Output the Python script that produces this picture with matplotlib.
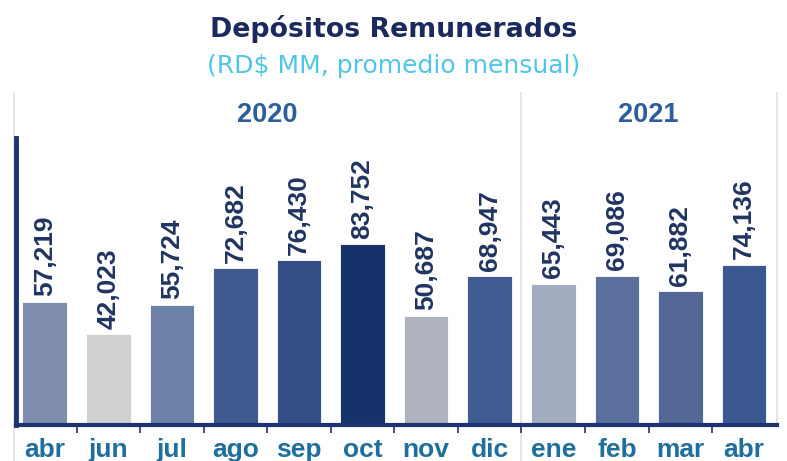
import matplotlib
matplotlib.use('Agg')
import matplotlib.pyplot as plt
import matplotlib.transforms as mtransforms

# Datos (RD$ MM, promedio mensual)
meses = ['abr', 'jun', 'jul', 'ago', 'sep', 'oct', 'nov', 'dic',
         'ene', 'feb', 'mar', 'abr']
valores = [57219, 42023, 55724, 72682, 76430, 83752, 50687, 68947,
           65443, 69086, 61882, 74136]
colores = ['#7F8EAE', '#D0D0D0', '#6D80A8', '#3E5A8E', '#344F86', '#16326B',
           '#ADB2BE', '#3E5B92', '#A3ACBF', '#5A6F9C', '#526795', '#3A5790']
anios = ['2020', '2021']
anio_centro = [3.5, 9.5]
separadores = [7.5]

NAVY = '#1B3370'
W, H = 787, 461

fig = plt.figure(figsize=(W / 100, H / 100), dpi=100)
ax = fig.add_axes([15.5 / W, 1 - 425 / H, (777 - 15.5) / W, 287 / H])

x = range(len(valores))
ax.bar(x, valores, width=0.7, color=colores, edgecolor='white', linewidth=0.6, zorder=2)

# Etiquetas de valores (verticales)
for xi, v in zip(x, valores):
    ax.annotate(f'{v:,}', (xi, v), xytext=(0, 4), textcoords='offset points',
                rotation=90, ha='center', va='bottom', fontsize=19,
                fontweight='bold', color='#1F3461', family='Liberation Sans')

ax.set_xlim(-0.46, 11.52)
ax.set_ylim(0, 133000)

# Ejes
for s in ['top', 'right']:
    ax.spines[s].set_visible(False)
ax.spines['left'].set_color(NAVY)
ax.spines['left'].set_linewidth(3.5)
ax.spines['bottom'].set_color(NAVY)
ax.spines['bottom'].set_linewidth(3)
ax.set_yticks([])

ax.set_xticks(list(x))
ax.set_xticklabels(meses, fontsize=19, fontweight='bold', color='#1F6E9E',
                   family='Liberation Sans')
ax.tick_params(axis='x', which='major', length=0, pad=9)
ax.set_xticks([i + 0.5 for i in range(11)], minor=True)
ax.tick_params(axis='x', which='minor', length=6, width=1.2, color=NAVY)

# Lineas separadoras grises
tr = mtransforms.blended_transform_factory(ax.transData, ax.transAxes)
gris = '#E2E2E2'
ax.plot([-0.48, -0.48], [1.157, -0.13], color=gris, lw=1.3, transform=tr, clip_on=False, zorder=0)
for s in separadores:
    ax.plot([s, s], [1.157, -0.13], color=gris, lw=1.3, transform=tr, clip_on=False, zorder=0)
ax.plot([11.52, 11.52], [1.157, 0.0], color=gris, lw=1.3, transform=tr, clip_on=False, zorder=0)

# Etiquetas de anios
for a, c in zip(anios, anio_centro):
    ax.text(c, 1.08, a, transform=tr, ha='center', va='center', fontsize=19.5,
            fontweight='bold', color='#2C5F99', family='Liberation Sans')

# Titulo
fig.text(0.5, 1 - 29 / H, 'Depósitos Remunerados', ha='center', va='center',
         fontsize=19.3, fontweight='bold', color='#1B2A5E', family='DejaVu Sans')
fig.text(0.5, 1 - 66 / H, '(RD$ MM, promedio mensual)', ha='center', va='center',
         fontsize=18, color='#4FC6E5', family='DejaVu Sans')

fig.savefig('out.png', dpi=100)
